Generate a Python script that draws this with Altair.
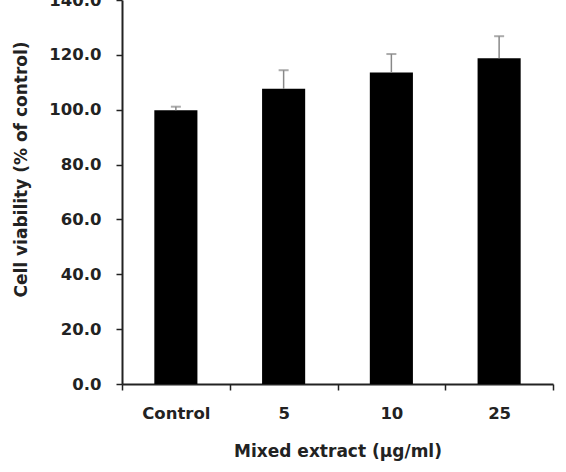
import altair as alt
import pandas as pd

categories = ["Control", "5", "10", "25"]
viability = [99.8, 107.6, 113.6, 118.8]
errors = [1.3, 6.8, 6.7, 8.0]

df = pd.DataFrame({"cat": categories, "val": viability, "err": errors})

FONT = "DejaVu Sans"

x_enc = alt.X(
    "cat:N",
    sort=categories,
    scale=alt.Scale(paddingInner=0, paddingOuter=0),
    axis=alt.Axis(
        title="Mixed extract (\u03bcg/ml)",
        labelAngle=0,
        tickBand="extent",
        labelFont=FONT,
        labelFontSize=16.5,
        labelFontWeight="bold",
        labelColor="#222",
        labelPadding=15,
        titleFont=FONT,
        titleFontSize=17,
        titleFontWeight="bold",
        titleColor="#222",
        titlePadding=22,
        domainColor="#222",
        domainWidth=2,
        tickColor="#222",
        tickWidth=1.5,
        tickSize=6,
        grid=False,
    ),
)

base = alt.Chart(df)

bars = base.mark_bar(color="black", width=alt.RelativeBandSize(0.4)).encode(
    x=x_enc,
    y=alt.Y(
        "val:Q",
        scale=alt.Scale(domain=[0, 140], nice=False),
        axis=alt.Axis(
            title="Cell viability (% of control)",
            values=[0, 20, 40, 60, 80, 100, 120, 140],
            format=".1f",
            labelFont=FONT,
            labelFontSize=16.5,
            labelFontWeight="bold",
            labelColor="#222",
            labelPadding=15,
            titleFont=FONT,
            titleFontSize=17,
            titleFontWeight="bold",
            titleColor="#222",
            titlePadding=18,
            titleY=169,
            domainColor="#222",
            domainWidth=2,
            tickColor="#222",
            tickWidth=1.5,
            tickSize=6,
            grid=False,
        ),
    ),
)

err_rule = base.transform_calculate(top="datum.val + datum.err").mark_rule(
    color="#888", strokeWidth=1.5
).encode(
    x=alt.X("cat:N", sort=categories),
    y="val:Q",
    y2="top:Q",
)

err_cap = base.transform_calculate(top="datum.val + datum.err").mark_tick(
    color="#888", size=10, thickness=2
).encode(
    x=alt.X("cat:N", sort=categories),
    y="top:Q",
)

chart = (
    alt.layer(bars, err_rule, err_cap)
    .properties(
        width=431,
        height=384,
        autosize=alt.AutoSizeParams(type="none"),
        padding={"left": 122, "top": 0, "right": 13, "bottom": 88},
        background="white",
    )
    .configure_view(stroke=None)
)

chart.save("out.html", embed_options={"renderer": "svg", "actions": False})
